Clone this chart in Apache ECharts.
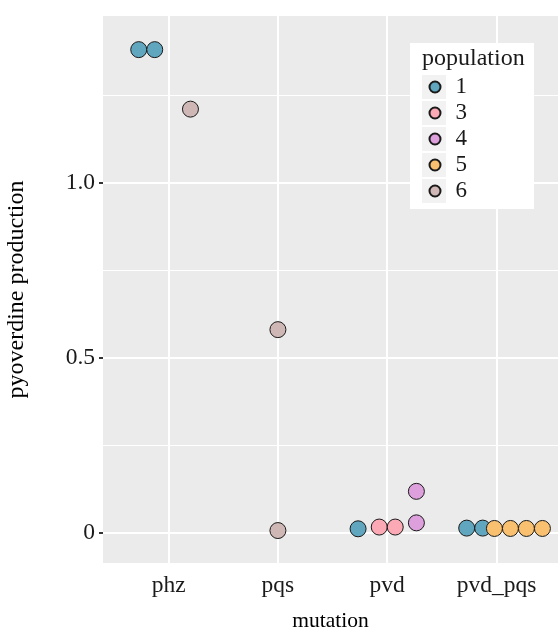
<!DOCTYPE html>
<html>
<head>
<meta charset="utf-8">
<script src="https://cdn.jsdelivr.net/npm/echarts@6/dist/echarts.min.js"></script>
<style>
  html, body { margin: 0; padding: 0; background: #ffffff; }
  #chart { width: 558px; height: 633px; }
</style>
</head>
<body>
<div id="chart"></div>
<script>
// ---- data ----
const categories = ['phz', 'pqs', 'pvd', 'pvd_pqs'];
const populations = ['1', '3', '4', '5', '6'];
const popColors = ['#5FA6BE', '#FBA9B5', '#DDA0DD', '#F9C06F', '#CFB7B5'];
// observations: mutation, population, pyoverdine production
const obsMutation   = ['phz', 'phz', 'phz', 'pqs', 'pqs', 'pvd', 'pvd', 'pvd', 'pvd', 'pvd', 'pvd_pqs', 'pvd_pqs', 'pvd_pqs', 'pvd_pqs', 'pvd_pqs', 'pvd_pqs'];
const obsPopulation = ['1',   '1',   '6',   '6',   '6',   '1',   '3',   '3',   '4',   '4',   '1',       '1',       '5',       '5',       '5',       '5'];
const obsValue      = [1.381, 1.381, 1.211, 0.581, 0.007, 0.012, 0.017, 0.017, 0.029, 0.119, 0.014,     0.014,     0.013,     0.013,     0.013,     0.013];
const yTickValues = [0, 0.5, 1.0];
const yTickLabels = ['0', '0.5', '1.0'];
const yMinorValues = [0.25, 0.75, 1.25];

// ---- layout helpers ----
const W = 558, H = 633;
const gridLeft = 103, gridRight = 0, gridTop = 16, gridBottom = 70;
const xMin = 0.4, xMax = 4.562;
const yMin = -0.0857, yMax = 1.4771;
const dotSize = 16;
const pxPerUnitX = (W - gridLeft - gridRight) / (xMax - xMin);
const stackStep = dotSize / pxPerUnitX;
const dodgeWidth = 0.8;
const binWidth = 0.045;

// dodge by population within each category, then centre-stack dots within y bins
const seriesData = populations.map(() => []);
categories.forEach((cat, ci) => {
  const idx = obsMutation.map((m, i) => m === cat ? i : -1).filter(i => i >= 0);
  const pops = populations.filter(p => idx.some(i => obsPopulation[i] === p));
  const n = pops.length;
  pops.forEach((p, gi) => {
    const center = (ci + 1) + (gi - (n - 1) / 2) * (dodgeWidth / n);
    const vals = idx.filter(i => obsPopulation[i] === p).map(i => obsValue[i]).sort((a, b) => a - b);
    const bins = [];
    vals.forEach(v => {
      const last = bins[bins.length - 1];
      if (last && v - last[0] < binWidth) last.push(v); else bins.push([v]);
    });
    bins.forEach(b => {
      b.forEach((v, k) => {
        seriesData[populations.indexOf(p)].push([center + (k - (b.length - 1) / 2) * stackStep, v]);
      });
    });
  });
});

const font = 'Liberation Serif';
const chart = echarts.init(document.getElementById('chart'), null, { renderer: 'canvas' });

const gridLines = [];
yMinorValues.forEach(v => gridLines.push({ yAxis: v, lineStyle: { width: 1 } }));
yTickValues.forEach(v => gridLines.push({ yAxis: v, lineStyle: { width: 2 } }));
categories.forEach((c, i) => gridLines.push({ xAxis: i + 1, lineStyle: { width: 2 } }));

// legend decoration
const legLeft = 410, legTop = 43, keyTop = 75, keyPitch = 26;
const graphics = [
  { type: 'rect', left: legLeft, top: legTop, shape: { width: 124, height: 166 }, style: { fill: '#ffffff' }, z: 6 },
  { type: 'text', left: 422, top: 47, style: { text: 'population', font: '24px "Liberation Serif"', fill: '#1a1a1a' }, z: 7 }
];
populations.forEach((p, i) => {
  graphics.push({ type: 'rect', left: 422, top: keyTop + i * keyPitch, shape: { width: 24, height: 24 }, style: { fill: '#f2f2f2' }, z: 7 });
});

const series = [{
  type: 'scatter', name: '_grid', data: [], silent: true, z: 1,
  markLine: {
    silent: true, symbol: 'none', animation: false, z: 1,
    label: { show: false },
    lineStyle: { color: '#ffffff', type: 'solid' },
    data: gridLines
  }
}];
populations.forEach((p, i) => {
  series.push({
    type: 'scatter', name: p, data: seriesData[i], symbol: 'circle', symbolSize: dotSize, z: 5,
    itemStyle: { color: popColors[i], borderColor: '#1a1a1a', borderWidth: 1, opacity: 1 }
  });
});

chart.setOption({
  animation: false,
  backgroundColor: '#ffffff',
  grid: { left: gridLeft, right: gridRight, top: gridTop, bottom: gridBottom, show: true, backgroundColor: '#EBEBEB', borderWidth: 0,
    containLabel: false, outerBoundsMode: 'none' },
  xAxis: {
    type: 'value', min: xMin, max: xMax,
    name: 'mutation', nameLocation: 'middle', nameGap: 47,
    nameTextStyle: { fontFamily: font, fontSize: 21.5, color: '#000' },
    axisLine: { show: false },
    splitLine: { show: false },
    axisTick: { show: true, length: 4, lineStyle: { color: '#333', width: 2 }, customValues: [1, 2, 3, 4] },
    axisLabel: { fontFamily: font, fontSize: 23.5, color: '#1a1a1a', margin: 11, customValues: [1, 2, 3, 4],
      formatter: v => categories[Math.round(v) - 1] || '' }
  },
  yAxis: {
    type: 'value', min: yMin, max: yMax,
    name: 'pyoverdine production', nameLocation: 'middle', nameGap: 74,
    nameTextStyle: { fontFamily: font, fontSize: 24, color: '#000' },
    axisLine: { show: false },
    splitLine: { show: false },
    axisTick: { show: true, length: 4, lineStyle: { color: '#333', width: 2 }, customValues: yTickValues },
    axisLabel: { fontFamily: font, fontSize: 23.5, color: '#1a1a1a', margin: 8, customValues: yTickValues,
      formatter: v => { const k = yTickValues.findIndex(t => Math.abs(t - v) < 1e-9); return k >= 0 ? yTickLabels[k] : ''; } }
  },
  legend: {
    data: populations, orient: 'vertical', left: 428.5, top: keyTop, padding: 0, icon: 'circle',
    itemWidth: 11, itemHeight: 11, itemGap: 2,
    textStyle: { fontFamily: font, fontSize: 23, lineHeight: 24, color: '#1a1a1a', padding: [0, 0, 0, 10] },
    z: 10
  },
  graphic: graphics,
  series: series
});
</script>
</body>
</html>
